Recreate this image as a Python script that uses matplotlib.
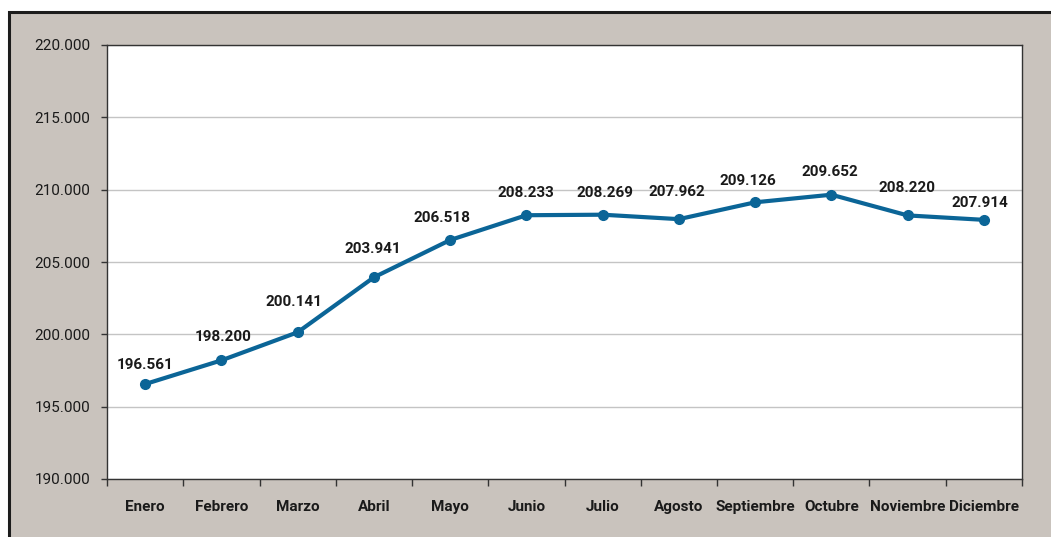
import matplotlib
matplotlib.use("Agg")
import matplotlib.pyplot as plt
from matplotlib.patches import Rectangle
from matplotlib.ticker import FixedLocator, FuncFormatter
import numpy as np

months = ["Enero", "Febrero", "Marzo", "Abril", "Mayo", "Junio", "Julio",
          "Agosto", "Septiembre", "Octubre", "Noviembre", "Diciembre"]
values = [196561, 198200, 200141, 203941, 206518, 208233, 208269,
          207962, 209126, 209652, 208220, 207914]
yticks = [190000, 195000, 200000, 205000, 210000, 215000, 220000]

# label placement (pixel offsets from the point to the label centre) - style only
label_dx = [0, 2, -4, -1, -8, -1, 2, -2, -7, -1, -1, -4]
label_dy = [19, 23, 30, 28, 22, 22, 22, 27, 21, 23, 27, 17]

FONT = ["Roboto", "DejaVu Sans"]
plt.rcParams['font.family'] = FONT

W, H = 1051, 537
fig = plt.figure(figsize=(W / 100, H / 100), dpi=100)
fig.patch.set_facecolor("white")

panel = Rectangle((9 / W, -0.05), 1.2, 1 - 12 / H + 0.05, transform=fig.transFigure,
                  facecolor="#c9c3bd", edgecolor="#1c1c1c", linewidth=2.2, zorder=-10)
fig.patches.append(panel)

ax = fig.add_axes([107 / W, 1 - 479 / H, (1022 - 107) / W, (479 - 45) / H])
ax.set_zorder(5)
ax.set_facecolor("white")

x = np.arange(len(months))
ax.plot(x, values, color="#0b6597", linewidth=3.0, marker="o", markersize=7,
        zorder=3, solid_capstyle="round")

def fmt(v):
    return f"{int(v):,}".replace(",", ".")

for xi, v, dx, dy in zip(x, values, label_dx, label_dy):
    ax.annotate(fmt(v), (xi, v), xytext=(dx * 0.72, dy * 0.72), textcoords="offset points",
                ha="center", va="center", fontsize=11, fontweight="bold",
                color="#1a1a1a", zorder=4)

ax.set_xlim(-0.5, len(months) - 0.5)
ax.set_ylim(190000, 220000)
ax.set_yticks(yticks)
ax.yaxis.set_major_formatter(FuncFormatter(lambda v, p: fmt(v)))
ax.grid(axis="y", color="#c4c4c4", linewidth=1.0)
ax.set_axisbelow(True)

ax.set_xticks(x)
ax.set_xticklabels(months, fontweight="bold")
ax.xaxis.set_minor_locator(FixedLocator(np.arange(-0.5, len(months), 1.0)))
ax.tick_params(axis="x", which="major", length=0, pad=15, labelsize=11,
               labelcolor="#1a1a1a")
ax.tick_params(axis="x", which="minor", length=5, width=1, color="#333333")
ax.tick_params(axis="y", length=4, width=1, color="#333333", labelsize=11,
               labelcolor="#1a1a1a", pad=8)

for s in ["left", "bottom", "right", "top"]:
    ax.spines[s].set_color("#333333")
    ax.spines[s].set_linewidth(1.0)

fig.savefig("out.png", dpi=100)
